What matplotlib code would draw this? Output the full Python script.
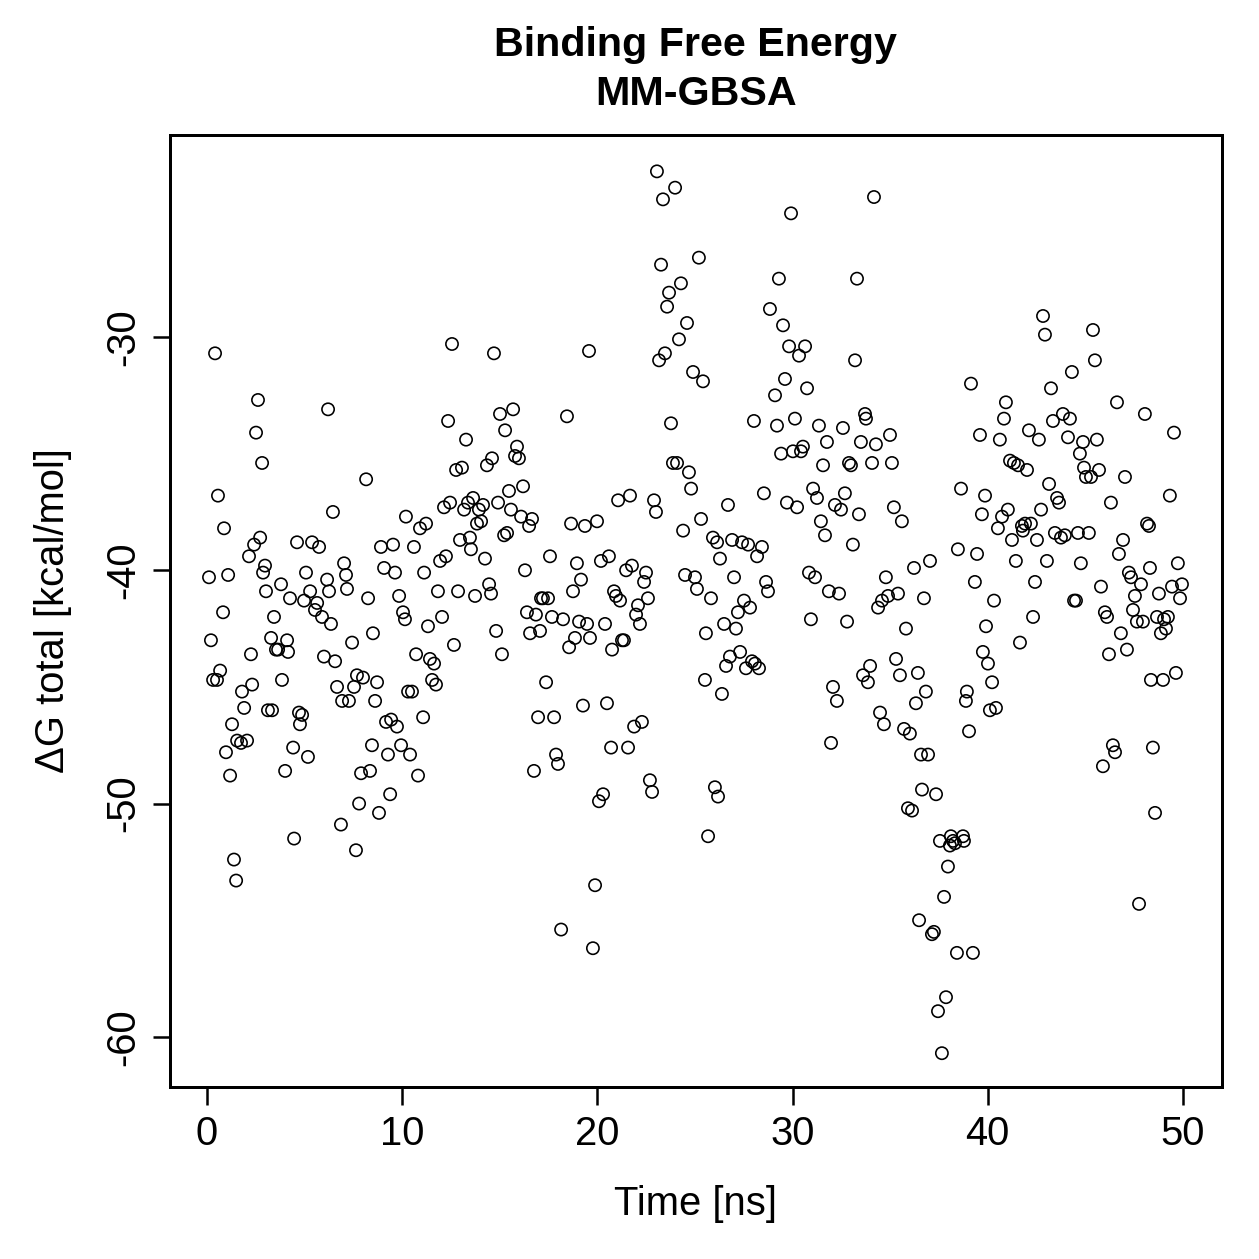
import matplotlib
matplotlib.use("Agg")
import matplotlib.pyplot as plt

plt.rcParams['font.family'] = ['Liberation Sans', 'DejaVu Sans']

# Time [ns] and Delta G total [kcal/mol]
time_ns = [
    0.10, 0.20, 0.31, 0.41, 0.51, 0.56, 0.67, 0.82, 0.87, 0.97,
    1.08, 1.18, 1.28, 1.38, 1.49, 1.54, 1.74, 1.79, 1.90, 2.05,
    2.15, 2.25, 2.31, 2.41, 2.51, 2.61, 2.72, 2.82, 2.87, 2.97,
    3.02, 3.12, 3.28, 3.33, 3.43, 3.53, 3.64, 3.79, 3.84, 4.00,
    4.10, 4.15, 4.25, 4.41, 4.46, 4.61, 4.71, 4.76, 4.87, 4.97,
    5.07, 5.17, 5.28, 5.38, 5.53, 5.64, 5.74, 5.89, 5.99, 6.15,
    6.20, 6.25, 6.35, 6.45, 6.56, 6.66, 6.86, 6.92, 7.02, 7.12,
    7.17, 7.27, 7.43, 7.53, 7.63, 7.68, 7.79, 7.89, 7.99, 8.15,
    8.25, 8.35, 8.45, 8.50, 8.61, 8.71, 8.81, 8.91, 9.07, 9.17,
    9.27, 9.38, 9.43, 9.53, 9.63, 9.73, 9.84, 9.94, 10.04, 10.14,
    10.19, 10.30, 10.40, 10.50, 10.60, 10.71, 10.81, 10.91, 11.07, 11.12,
    11.22, 11.32, 11.42, 11.53, 11.63, 11.73, 11.83, 11.94, 12.04, 12.14,
    12.24, 12.35, 12.45, 12.55, 12.65, 12.76, 12.86, 12.96, 13.06, 13.17,
    13.27, 13.37, 13.47, 13.52, 13.63, 13.73, 13.83, 13.93, 14.04, 14.14,
    14.24, 14.34, 14.45, 14.55, 14.60, 14.70, 14.81, 14.91, 15.01, 15.11,
    15.22, 15.27, 15.37, 15.47, 15.57, 15.68, 15.78, 15.88, 15.98, 16.09,
    16.19, 16.29, 16.39, 16.50, 16.55, 16.65, 16.75, 16.85, 16.96, 17.06,
    17.11, 17.21, 17.37, 17.47, 17.57, 17.67, 17.78, 17.88, 17.98, 18.14,
    18.24, 18.44, 18.55, 18.65, 18.75, 18.85, 18.95, 19.06, 19.16, 19.26,
    19.36, 19.47, 19.57, 19.62, 19.77, 19.88, 19.98, 20.08, 20.18, 20.29,
    20.39, 20.49, 20.59, 20.70, 20.75, 20.85, 20.95, 21.06, 21.16, 21.26,
    21.36, 21.47, 21.57, 21.67, 21.77, 21.88, 21.98, 22.08, 22.18, 22.28,
    22.39, 22.49, 22.59, 22.69, 22.80, 22.90, 23.00, 23.05, 23.16, 23.26,
    23.36, 23.46, 23.57, 23.67, 23.77, 23.87, 23.98, 24.08, 24.18, 24.28,
    24.39, 24.49, 24.59, 24.69, 24.80, 24.90, 25.00, 25.10, 25.20, 25.31,
    25.41, 25.51, 25.56, 25.67, 25.82, 25.92, 26.02, 26.13, 26.18, 26.28,
    26.38, 26.49, 26.59, 26.69, 26.79, 26.90, 27.00, 27.10, 27.20, 27.31,
    27.41, 27.51, 27.61, 27.72, 27.82, 27.92, 28.02, 28.07, 28.18, 28.28,
    28.43, 28.53, 28.64, 28.74, 28.84, 29.10, 29.20, 29.30, 29.41, 29.51,
    29.61, 29.71, 29.82, 29.92, 30.02, 30.12, 30.23, 30.33, 30.43, 30.53,
    30.64, 30.74, 30.84, 30.94, 31.05, 31.15, 31.25, 31.35, 31.45, 31.56,
    31.66, 31.76, 31.86, 31.97, 32.07, 32.17, 32.27, 32.38, 32.48, 32.58,
    32.68, 32.79, 32.89, 32.99, 33.09, 33.20, 33.30, 33.40, 33.50, 33.61,
    33.71, 33.76, 33.86, 33.97, 34.07, 34.17, 34.27, 34.38, 34.48, 34.58,
    34.68, 34.78, 34.89, 34.99, 35.09, 35.19, 35.30, 35.40, 35.50, 35.60,
    35.71, 35.81, 35.91, 36.01, 36.12, 36.22, 36.32, 36.42, 36.48, 36.58,
    36.63, 36.73, 36.83, 36.94, 37.04, 37.14, 37.24, 37.35, 37.45, 37.55,
    37.65, 37.76, 37.86, 37.96, 38.06, 38.11, 38.22, 38.32, 38.42, 38.47,
    38.63, 38.73, 38.78, 38.88, 38.93, 39.04, 39.14, 39.24, 39.34, 39.45,
    39.60, 39.70, 39.75, 39.86, 39.91, 40.01, 40.11, 40.22, 40.32, 40.42,
    40.52, 40.62, 40.73, 40.83, 40.93, 41.03, 41.14, 41.24, 41.34, 41.44,
    41.55, 41.65, 41.75, 41.80, 41.91, 42.01, 42.11, 42.21, 42.32, 42.42,
    42.52, 42.62, 42.73, 42.83, 42.93, 43.03, 43.14, 43.24, 43.34, 43.44,
    43.55, 43.65, 43.75, 43.85, 43.95, 44.11, 44.21, 44.31, 44.42, 44.52,
    44.62, 44.72, 44.77, 44.88, 44.93, 45.03, 45.18, 45.29, 45.39, 45.49,
    45.59, 45.70, 45.80, 45.90, 46.00, 46.11, 46.21, 46.31, 46.41, 46.52,
    46.62, 46.72, 46.82, 46.93, 47.03, 47.13, 47.23, 47.34, 47.44, 47.54,
    47.64, 47.75, 47.85, 47.95, 48.05, 48.16, 48.26, 48.31, 48.36, 48.46,
    48.57, 48.67, 48.77, 48.87, 48.98, 49.03, 49.13, 49.23, 49.33, 49.44,
    49.54, 49.64, 49.74, 49.85, 49.95,
]

dg_total = [
    -40.3, -43.0, -44.7, -30.7, -44.7, -36.8, -44.3, -41.8, -38.2, -47.8,
    -40.2, -48.8, -46.6, -52.4, -53.3, -47.3, -47.4, -45.2, -45.9, -47.3,
    -39.4, -43.6, -44.9, -38.9, -34.1, -32.7, -38.6, -35.4, -40.1, -39.8,
    -40.9, -46.0, -42.9, -46.0, -42.0, -43.4, -43.4, -40.6, -44.7, -48.6,
    -43.0, -43.5, -41.2, -47.6, -51.5, -38.8, -46.1, -46.6, -46.2, -41.3,
    -40.1, -48.0, -40.9, -38.8, -41.7, -41.4, -39.0, -42.0, -43.7, -40.4,
    -33.1, -40.9, -42.3, -37.5, -43.9, -45.0, -50.9, -45.6, -39.7, -40.2,
    -40.8, -45.6, -43.1, -45.0, -52.0, -44.5, -50.0, -48.7, -44.6, -36.1,
    -41.2, -48.6, -47.5, -42.7, -45.6, -44.8, -50.4, -39.0, -39.9, -46.5,
    -47.9, -49.6, -46.4, -38.9, -40.1, -46.7, -41.1, -47.5, -41.8, -42.1,
    -37.7, -45.2, -47.9, -45.2, -39.0, -43.6, -48.8, -38.2, -46.3, -40.1,
    -38.0, -42.4, -43.8, -44.7, -44.0, -44.9, -40.9, -39.6, -42.0, -37.3,
    -39.4, -33.6, -37.1, -30.3, -43.2, -35.7, -40.9, -38.7, -35.6, -37.4,
    -34.4, -37.1, -38.6, -39.1, -36.9, -41.1, -38.0, -37.4, -37.9, -37.2,
    -39.5, -35.5, -40.6, -41.0, -35.2, -30.7, -42.6, -37.1, -33.3, -43.6,
    -38.5, -34.0, -38.4, -36.6, -37.4, -33.1, -35.1, -34.7, -35.2, -37.7,
    -36.4, -40.0, -41.8, -38.1, -42.7, -37.8, -48.6, -41.9, -46.3, -42.6,
    -41.2, -41.2, -44.8, -41.2, -39.4, -42.0, -46.3, -47.9, -48.3, -55.4,
    -42.1, -33.4, -43.3, -38.0, -40.9, -42.9, -39.7, -42.2, -40.4, -45.8,
    -38.1, -42.3, -30.6, -42.9, -56.2, -53.5, -37.9, -49.9, -39.6, -49.6,
    -42.3, -45.7, -39.4, -47.6, -43.4, -40.9, -41.1, -37.0, -41.3, -43.0,
    -43.0, -40.0, -47.6, -36.8, -39.8, -46.7, -41.9, -41.5, -42.3, -46.5,
    -40.5, -40.1, -41.2, -49.0, -49.5, -37.0, -37.5, -22.9, -31.0, -26.9,
    -24.1, -30.7, -28.7, -28.1, -33.7, -35.4, -23.6, -35.4, -30.1, -27.7,
    -38.3, -40.2, -29.4, -35.8, -36.5, -31.5, -40.3, -40.8, -26.6, -37.8,
    -31.9, -44.7, -42.7, -51.4, -41.2, -38.6, -49.3, -38.8, -49.7, -39.5,
    -45.3, -42.3, -44.1, -37.2, -43.7, -38.7, -40.3, -42.5, -41.8, -43.5,
    -38.8, -41.3, -44.2, -38.9, -41.6, -43.9, -33.6, -44.0, -39.4, -44.2,
    -39.0, -36.7, -40.5, -40.9, -28.8, -32.5, -33.8, -27.5, -35.0, -29.5,
    -31.8, -37.1, -30.4, -24.7, -34.9, -33.5, -37.3, -30.8, -34.9, -34.7,
    -30.4, -32.2, -40.1, -42.1, -36.5, -40.3, -36.9, -33.8, -37.9, -35.5,
    -38.5, -34.5, -40.9, -47.4, -45.0, -37.2, -45.6, -41.0, -37.4, -33.9,
    -36.7, -42.2, -35.4, -35.5, -38.9, -31.0, -27.5, -37.6, -34.5, -44.5,
    -33.3, -33.5, -44.8, -44.1, -35.4, -24.0, -34.6, -41.6, -46.1, -41.3,
    -46.6, -40.3, -41.1, -34.2, -35.4, -37.3, -43.8, -41.0, -44.5, -37.9,
    -46.8, -42.5, -50.2, -47.0, -50.3, -39.9, -45.7, -44.4, -55.0, -47.9,
    -49.4, -41.2, -45.2, -47.9, -39.6, -55.6, -55.5, -49.6, -58.9, -51.6,
    -60.7, -54.0, -58.3, -52.7, -51.8, -51.4, -51.6, -51.7, -56.4, -39.1,
    -36.5, -51.4, -51.6, -45.6, -45.2, -46.9, -32.0, -56.4, -40.5, -39.3,
    -34.2, -37.6, -43.5, -36.8, -42.4, -44.0, -46.0, -44.8, -41.3, -45.9,
    -38.2, -34.4, -37.7, -33.5, -32.8, -37.4, -35.3, -38.7, -35.4, -39.6,
    -35.5, -43.1, -38.1, -38.3, -38.0, -35.7, -34.0, -38.0, -42.0, -40.5,
    -38.7, -34.4, -37.4, -29.1, -29.9, -39.6, -36.3, -32.2, -33.6, -38.4,
    -36.9, -37.1, -38.6, -33.3, -38.5, -34.3, -33.5, -31.5, -41.3, -41.3,
    -38.4, -35.0, -39.7, -34.5, -35.6, -36.0, -38.4, -36.0, -29.7, -31.0,
    -34.4, -35.7, -40.7, -48.4, -41.8, -42.0, -43.6, -37.1, -47.5, -47.8,
    -32.8, -39.3, -42.7, -38.7, -36.0, -43.4, -40.1, -40.3, -41.7, -41.1,
    -42.2, -54.3, -40.6, -42.2, -33.3, -38.0, -38.1, -39.9, -44.7, -47.6,
    -50.4, -42.0, -41.0, -42.7, -44.7, -42.1, -42.5, -42.0, -36.8, -40.7,
    -34.1, -44.4, -39.7, -41.2, -40.6,
]

x_ticks = [0, 10, 20, 30, 40, 50]
y_ticks = [-60, -50, -40, -30]

fig = plt.figure(figsize=(1259 / 180, 1259 / 180), dpi=180)
ax = fig.add_axes([0.135, 0.1366, 0.8356, 0.7562])

# open circles, R style
ax.scatter(time_ns, dg_total, s=24, facecolors='none', edgecolors='black', linewidths=0.65)

ax.set_xlim(-1.9, 52.0)
ax.set_ylim(-62.15, -21.34)
ax.set_xticks(x_ticks)
ax.set_yticks(y_ticks)
ax.set_yticklabels([str(v) for v in y_ticks], rotation=90, va='center')

ax.tick_params(direction='out', length=7, width=1.0, labelsize=16, pad=4)
for sp in ax.spines.values():
    sp.set_linewidth(1.2)

ax.set_xlabel('Time [ns]', fontsize=16, labelpad=13)
ax.set_ylabel('\u0394G total [kcal/mol]', fontsize=16, labelpad=13)
ax.set_title('Binding Free Energy\nMM-GBSA', fontsize=16.5, fontweight='bold', pad=12,
             linespacing=1.38)

fig.savefig('out.png', dpi=180)
